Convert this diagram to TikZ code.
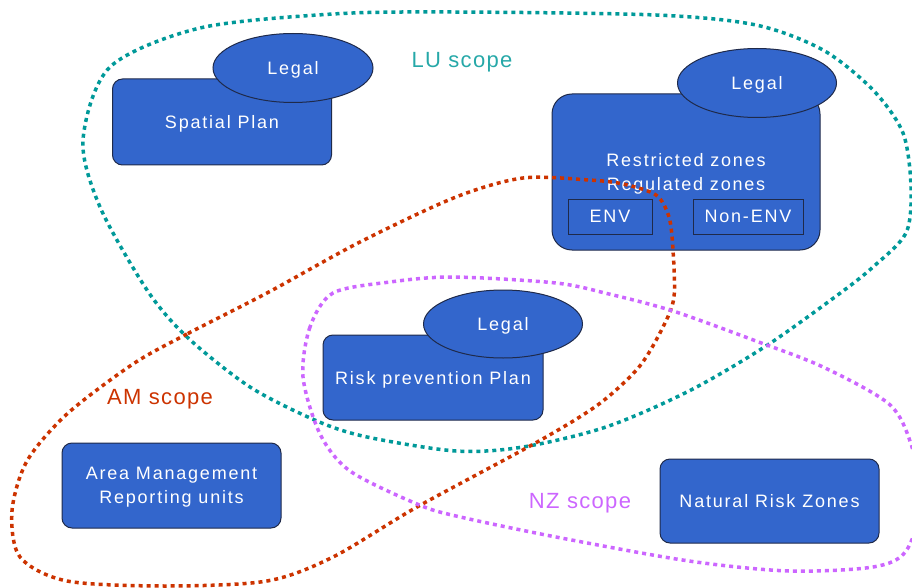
\documentclass[tikz,border=0pt]{standalone}
\usepackage{xcolor}
\usepackage{fontspec}
\usepackage{tikz}
\usetikzlibrary{shapes.geometric}

\newfontfamily\boxfont{Liberation Sans}[LetterSpace=10]
\newfontfamily\scopefont{Liberation Sans}[LetterSpace=6]

\definecolor{boxblue}{HTML}{3366CC}
\definecolor{boxline}{HTML}{1F2A4A}
\definecolor{luteal}{HTML}{009999}
\definecolor{amred}{HTML}{CC3300}
\definecolor{nzviolet}{HTML}{CC66FF}

\begin{document}
\begin{tikzpicture}[x=1pt,y=-1pt,
	plan/.style={draw=boxline,line width=1pt,fill=boxblue,text=white,rounded corners=10pt,
		inner sep=0pt,text depth=-1pt,align=center,font=\boxfont\fontsize{18}{24}\selectfont},
	legal/.style={ellipse,draw=boxline,line width=1pt,fill=boxblue,text=white,inner sep=0pt,
		text depth=-1pt,minimum width=160pt,minimum height=69pt,font=\boxfont\fontsize{18}{24}\selectfont},
	kind/.style={draw=boxline,line width=1pt,fill=boxblue,text=white,inner sep=0pt,
		text depth=-1pt,minimum height=35pt,font=\boxfont\fontsize{18}{24}\selectfont},
	scope/.style={line width=3.5pt,dash pattern=on 4pt off 4pt},
	scopelabel/.style={text depth=-1pt,font=\scopefont\fontsize{22}{26}\selectfont}]

\useasboundingbox (0,0) rectangle (912,588);

% plans and their legal part
\node[plan,minimum width=219pt,minimum height=86pt] (spatial) at (222,122) {Spatial Plan};
\node[legal] (spatial legal) at (293,68) {Legal};

\node[plan,rounded corners=20pt,minimum width=268pt,minimum height=156pt] (zones) at (686,172)
	{Restricted zones\\Regulated zones};
\node[legal,minimum width=159pt] (zones legal) at (757,83) {Legal};
\node[kind,minimum width=84pt] (env) at (610,216.5) {ENV};
\node[kind,minimum width=110pt] (nonenv) at (748,216.5) {Non-ENV};

\node[plan,minimum width=220pt,minimum height=85pt] (risk) at (433,377.5) {Risk prevention Plan};
\node[legal,minimum width=159pt,minimum height=68pt] (risk legal) at (503,324) {Legal};

\node[plan,minimum width=219pt,minimum height=85pt] (area) at (171.5,485.5)
	{Area Management\\Reporting units};
\node[plan,minimum width=219pt,minimum height=84pt] (natural) at (769.5,501) {Natural Risk Zones};

% scopes
\draw[scope,luteal] plot[smooth cycle] coordinates {(147,290) (100,207) (83,140) (110,67)
	(200,28) (333,14) (453,12) (656,15) (756,25) (823,50) (873,90) (903,133) (911,187)
	(906,233) (873,267) (839,294) (766,346) (689,391) (606,427) (523,447) (456,451)
	(367,437) (317,421) (250,387) (187,337)};
\draw[scope,amred] plot[smooth cycle] coordinates {(267,293) (187,334) (133,364) (67,414)
	(27,461) (12,511) (20,557) (67,581) (167,586) (267,581) (333,557) (417,507) (539,441)
	(599,404) (639,367) (663,327) (674,297) (673,250) (669,217) (656,195) (623,184)
	(589,180) (523,178) (456,197) (360,242)};
\draw[scope,nzviolet] plot[smooth cycle] coordinates {(333,293) (310,327) (303,377)
	(320,434) (350,471) (417,504) (456,516) (556,537) (689,561) (789,571) (873,567)
	(906,551) (922,500) (911,444) (889,404) (823,367) (756,341) (673,311) (609,294)
	(556,283) (453,277) (390,282)};

\node[scopelabel,text=luteal!85!white] (lu) at (462,60) {LU scope};
\node[scopelabel,text=amred] (am) at (160,397) {AM scope};
\node[scopelabel,text=nzviolet] (nz) at (580,501) {NZ scope};

\end{tikzpicture}
\end{document}
